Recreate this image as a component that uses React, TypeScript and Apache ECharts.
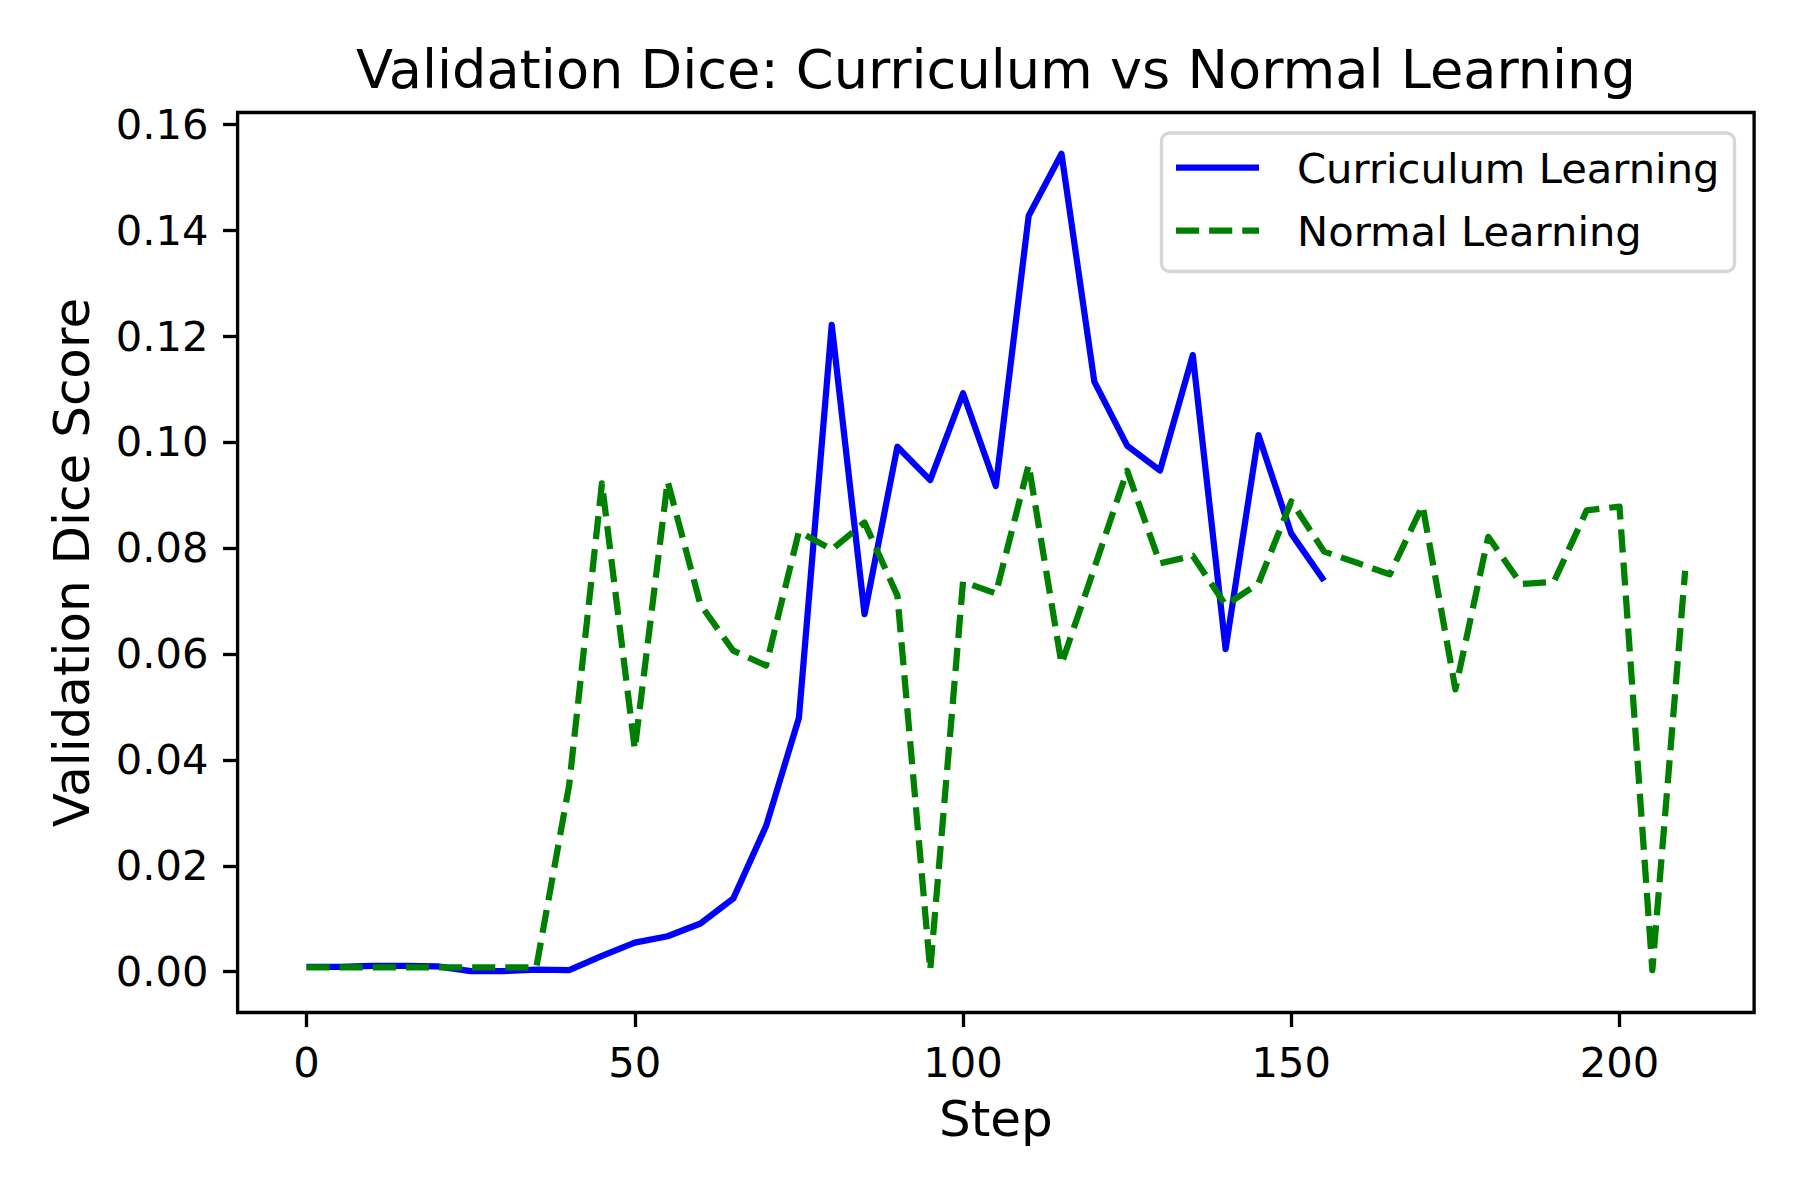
import React, { useEffect, useRef } from "react";
import * as echarts from "echarts";

const curriculumSteps = [0, 5, 10, 15, 20, 25, 30, 35, 40, 45, 50, 55, 60, 65, 70, 75, 80, 85, 90, 95, 100, 105, 110, 115, 120, 125, 130, 135, 140, 145, 150, 155];
const curriculumDice = [0.0009, 0.0009, 0.0011, 0.0011, 0.001, 0.0001, 0.0001, 0.0004, 0.0003, 0.003, 0.0055, 0.0067, 0.0091, 0.0138, 0.0275, 0.0479, 0.1221, 0.0675, 0.0991, 0.0928, 0.1092, 0.0917, 0.1427, 0.1544, 0.1114, 0.0993, 0.0946, 0.1164, 0.0609, 0.1013, 0.0827, 0.0738];

const normalSteps = [0, 5, 10, 15, 20, 25, 30, 35, 40, 45, 50, 55, 60, 65, 70, 75, 80, 85, 90, 95, 100, 105, 110, 115, 120, 125, 130, 135, 140, 145, 150, 155, 160, 165, 170, 175, 180, 185, 190, 195, 200, 205, 210];
const normalDice = [0.0008, 0.0008, 0.0008, 0.0008, 0.0008, 0.0008, 0.0008, 0.0008, 0.0352, 0.0922, 0.042, 0.0926, 0.0693, 0.0606, 0.0578, 0.0831, 0.0797, 0.0848, 0.071, 0.0003, 0.0736, 0.0714, 0.0957, 0.0581, 0.0762, 0.0946, 0.0771, 0.0785, 0.0692, 0.0733, 0.0888, 0.0793, 0.0772, 0.075, 0.088, 0.0533, 0.0821, 0.0732, 0.0736, 0.0871, 0.0878, 0.0003, 0.0757];

const xTicks = [0, 50, 100, 150, 200];
const yTicks = [0, 0.02, 0.04, 0.06, 0.08, 0.1, 0.12, 0.14, 0.16];

const titleText = "Validation Dice: Curriculum vs Normal Learning";
const xName = "Step";
const yName = "Validation Dice Score";
const seriesNames = ["Curriculum Learning", "Normal Learning"];

const FONT = "'DejaVu Sans', sans-serif";
const PT = 300 / 72;

export default function App() {
  const ref = useRef<HTMLDivElement>(null);
  useEffect(() => {
    if (!ref.current) return;
    const chart = echarts.init(ref.current, null, { renderer: "svg" });
    const gridL = 237.6, gridT = 112.5, gridW = 1516.5, gridH = 900;
    const tickFont = 10 * PT;
    const labelFont = 12 * PT;
    const titleFont = 13 * PT;
    const axisW = 0.8 * PT;
    const lw = 1.5 * PT;
    const dash = [3.7 * lw, 1.6 * lw];
    const axisCommon = {
      axisLine: { show: false, onZero: false },
      splitLine: { show: false },
      axisTick: { show: true, inside: false, length: 3.5 * PT, lineStyle: { color: "#000", width: axisW } },
    };
    chart.setOption({
      animation: false,
      backgroundColor: "#ffffff",
      grid: {
        left: gridL, top: gridT, width: gridW, height: gridH,
        show: true, borderColor: "#000", borderWidth: axisW, backgroundColor: "transparent",
      },
      xAxis: {
        type: "value", min: -10.5, max: 220.5, position: "bottom",
        ...axisCommon,
        axisTick: { ...axisCommon.axisTick, customValues: xTicks },
        axisLabel: {
          customValues: xTicks, margin: 29, color: "#000", fontFamily: FONT, fontSize: tickFont,
          formatter: (v: number) => String(v),
        },
      },
      yAxis: {
        type: "value", min: -0.0077, max: 0.1622, position: "left",
        ...axisCommon,
        axisTick: { ...axisCommon.axisTick, customValues: yTicks },
        axisLabel: {
          customValues: yTicks, margin: 29, color: "#000", fontFamily: FONT, fontSize: tickFont,
          formatter: (v: number) => v.toFixed(2),
        },
      },
      series: [
        {
          name: seriesNames[0], type: "line", showSymbol: false, symbol: "none",
          data: curriculumSteps.map((s, i) => [s, curriculumDice[i]]),
          lineStyle: { color: "#0000ff", width: lw, cap: "butt", join: "round" },
          z: 2,
        },
        {
          name: seriesNames[1], type: "line", showSymbol: false, symbol: "none",
          data: normalSteps.map((s, i) => [s, normalDice[i]]),
          lineStyle: { color: "#008000", width: lw, type: dash, cap: "butt", join: "round" },
          z: 3,
        },
      ],
      graphic: [
        {
          type: "text", x: gridL + gridW / 2, y: 69, z: 10,
          style: { text: titleText, fontFamily: FONT, fontSize: titleFont, fill: "#000", textAlign: "center", textVerticalAlign: "middle" },
        },
        {
          type: "text", x: gridL + gridW / 2, y: 1119, z: 10,
          style: { text: xName, fontFamily: FONT, fontSize: labelFont, fill: "#000", textAlign: "center", textVerticalAlign: "middle" },
        },
        {
          type: "text", x: 72, y: gridT + gridH / 2, rotation: Math.PI / 2, z: 10,
          style: { text: yName, fontFamily: FONT, fontSize: labelFont, fill: "#000", textAlign: "center", textVerticalAlign: "middle" },
        },
        {
          type: "group", z: 20,
          children: [
            {
              type: "rect", shape: { x: 1161.5, y: 133, width: 573, height: 138.5, r: 8 },
              style: { fill: "rgba(255,255,255,0.8)", stroke: "#d6d6d6", lineWidth: axisW },
            },
            {
              type: "line", shape: { x1: 1176, y1: 167.5, x2: 1259, y2: 167.5 },
              style: { stroke: "#0000ff", lineWidth: lw, lineCap: "butt" },
            },
            {
              type: "line", shape: { x1: 1176, y1: 230.5, x2: 1259, y2: 230.5 },
              style: { stroke: "#008000", lineWidth: lw, lineDash: dash, lineCap: "butt" },
            },
            {
              type: "text", x: 1297, y: 168,
              style: { text: seriesNames[0], fontFamily: FONT, fontSize: tickFont, fill: "#000", textAlign: "left", textVerticalAlign: "middle" },
            },
            {
              type: "text", x: 1297, y: 231,
              style: { text: seriesNames[1], fontFamily: FONT, fontSize: tickFont, fill: "#000", textAlign: "left", textVerticalAlign: "middle" },
            },
          ],
        },
      ],
    });
    return () => chart.dispose();
  }, []);
  return (
    <div
      ref={ref}
      style={{ position: "absolute", left: 0, top: 0, width: 1800, height: 1200, background: "#fff" }}
    />
  );
}
